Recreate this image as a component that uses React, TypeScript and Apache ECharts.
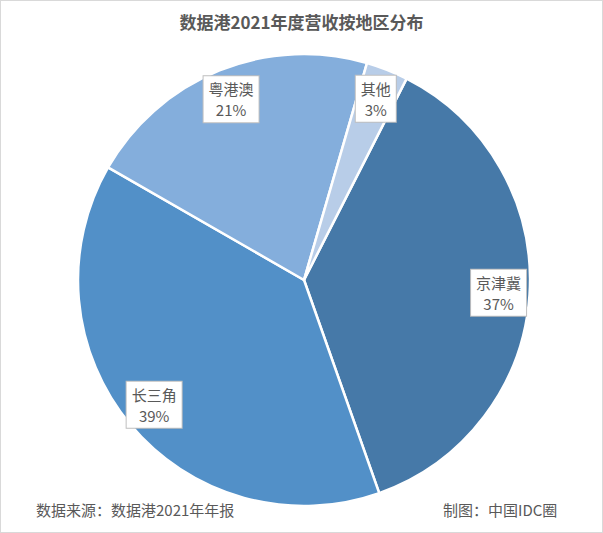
import React, { useEffect, useRef } from "react";
import * as echarts from "echarts";

const title = "数据港2021年度营收按地区分布";
const regions = ["京津冀", "长三角", "粤港澳", "其他"];
const shares = [37.1, 38.7, 21.2, 3.0];
const colors = ["#4679A8", "#5290C8", "#84AEDC", "#B8CDE8"];
const sourceNote = "数据来源：数据港2021年年报";
const makerNote = "制图：中国IDC圈";

export default function App() {
  const ref = useRef<HTMLDivElement>(null);
  useEffect(() => {
    if (!ref.current) return;
    const chart = echarts.init(ref.current, undefined, { renderer: "svg" });
    const data = regions.map((name, i) => ({ name, value: shares[i] }));
    const font = "'Noto Sans CJK SC', 'Noto Sans', sans-serif";
    chart.setOption({
      animation: false,
      backgroundColor: "#ffffff",
      color: colors,
      title: {
        text: title,
        left: "center",
        top: 7,
        textStyle: { fontSize: 17, fontWeight: "bold", color: "#595959", fontFamily: font },
      },
      graphic: [
        {
          type: "text",
          left: 35,
          top: 501,
          style: { text: sourceNote, fontSize: 15, fill: "#595959", fontFamily: font },
        },
        {
          type: "text",
          left: 442,
          top: 501,
          style: { text: makerNote, fontSize: 15, fill: "#595959", fontFamily: font },
        },
      ],
      series: [
        {
          type: "pie",
          center: [303, 279],
          radius: [0, 226],
          startAngle: 63,
          clockwise: true,
          data,
          label: { show: false },
          labelLine: { show: false },
          itemStyle: { borderColor: "#ffffff", borderWidth: 2.5 },
          emphasis: { disabled: true },
          silent: true,
        },
        {
          type: "pie",
          center: [303, 279],
          radius: [158, 226],
          startAngle: 63,
          clockwise: true,
          percentPrecision: 0,
          data,
          itemStyle: { color: "rgba(0,0,0,0)", borderWidth: 0 },
          labelLine: { show: false },
          label: {
            show: true,
            position: "inside",
            formatter: "{b}\n{d}%",
            color: "#595959",
            fontSize: 15,
            fontFamily: font,
            lineHeight: 21,
            align: "center",
            backgroundColor: "#ffffff",
            borderColor: "#bfbfbf",
            borderWidth: 1,
            padding: [2, 5, 2, 5],
          },
          emphasis: { disabled: true },
          silent: true,
        },
      ],
    });
    return () => chart.dispose();
  }, []);
  return (
    <div
      style={{
        position: "fixed",
        left: 0,
        top: 0,
        width: 603,
        height: 533,
        boxSizing: "border-box",
        border: "1px solid #d9d9d9",
        background: "#fff",
      }}
    >
      <div ref={ref} style={{ width: 601, height: 531 }} />
    </div>
  );
}
